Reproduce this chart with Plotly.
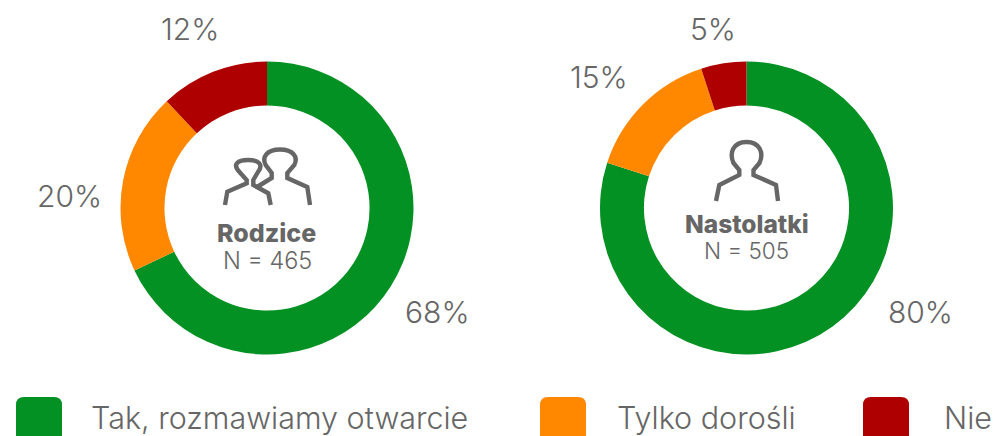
import plotly.graph_objects as go

categories = ["Tak, rozmawiamy otwarcie", "Tylko dorośli", "Nie"]
parents = [68, 20, 12]
teens = [80, 15, 5]
colors = ["#049123", "#FF8800", "#AE0000"]
titles = ["Rodzice", "Nastolatki"]
counts = ["N = 465", "N = 505"]

W, H = 997, 436
FONT = "Inter"
TEXT = "#666666"
R = 146.5


def domain(cx, cy):
    return dict(x=[(cx - R) / W, (cx + R) / W], y=[1 - (cy + R) / H, 1 - (cy - R) / H])


fig = go.Figure()
for vals, cx, name in [(parents, 267, titles[0]), (teens, 746.5, titles[1])]:
    fig.add_trace(go.Pie(
        labels=categories, values=vals, sort=False, direction="clockwise", rotation=0,
        hole=0.70, textinfo="none", hoverinfo="label+percent", showlegend=False,
        marker=dict(colors=colors, line=dict(width=0)),
        domain=domain(cx, 208), name=name,
    ))


def note(x, y, text, size, color=TEXT, anchor="center", weight=None):
    fig.add_annotation(
        x=x, y=y, xref="x", yref="y", text=text, showarrow=False,
        xanchor=anchor, yanchor="middle",
        font=dict(family=FONT, size=size, color=color, weight=weight or 300),
    )


for v, (x, y) in zip(parents, [(437.5, 312), (69, 196), (190, 29)]):
    note(x, y, f"{v}%", 30)
for v, (x, y) in zip(teens, [(920, 312), (599, 77), (713, 29)]):
    note(x, y, f"{v}%", 30)

note(266.5, 233, titles[0], 25, weight=800)
note(267, 260, counts[0], 23.5)
note(746.5, 224, titles[1], 24.5, weight=800)
note(746.5, 250, counts[1], 22.5)

icons = [
    "M225,205 L227.3,191.7 L246.7,183.3 L246.7,180 L239.5,172 C232,164 238,160 248,160 "
    "C258,160 264,164 258,172 L253.3,180 L253.3,185 L268.3,193.3 L270.7,205",
    "M257,187 L271.7,178 L271.7,173 L265.7,165 C261.5,157 267,149.5 280,149.5 "
    "C293,149.5 298.5,157 294.3,165 L287.3,173 L287.3,178 L307.3,187 L310,205",
    "M716,201 L719.3,185 L739.3,175 L739.3,170 L733.5,163 C729,153 733,142 746.5,142 "
    "C760,142 764,153 759.5,163 L753.5,170 L753.5,175 L776,185 L778,201",
]
for p in icons:
    fig.add_shape(type="path", path=p, xref="x", yref="y",
                  line=dict(color="#666666", width=4.4), layer="above")

legend_x = [(16, 62, 89), (540, 586, 615), (863, 909, 942)]
for (x0, x1, tx), c, name in zip(legend_x, colors, categories):
    r = 8
    path = (f"M{x0},450 L{x0},{397 + r} Q{x0},397 {x0 + r},397 L{x1 - r},397 "
            f"Q{x1},397 {x1},{397 + r} L{x1},450 Z")
    fig.add_shape(type="path", path=path, xref="x", yref="y", fillcolor=c, line=dict(width=0))
    note(tx, 417, name, 30.5, anchor="left")

fig.update_layout(
    width=W, height=H, margin=dict(l=0, r=0, t=0, b=0),
    paper_bgcolor="white", plot_bgcolor="white", showlegend=False,
    xaxis=dict(range=[0, W], visible=False, fixedrange=True),
    yaxis=dict(range=[H, 0], visible=False, fixedrange=True),
)
fig.write_html("out.html", config={"displayModeBar": False},
               post_script="document.body.style.margin='0';document.body.style.overflow='hidden';")
